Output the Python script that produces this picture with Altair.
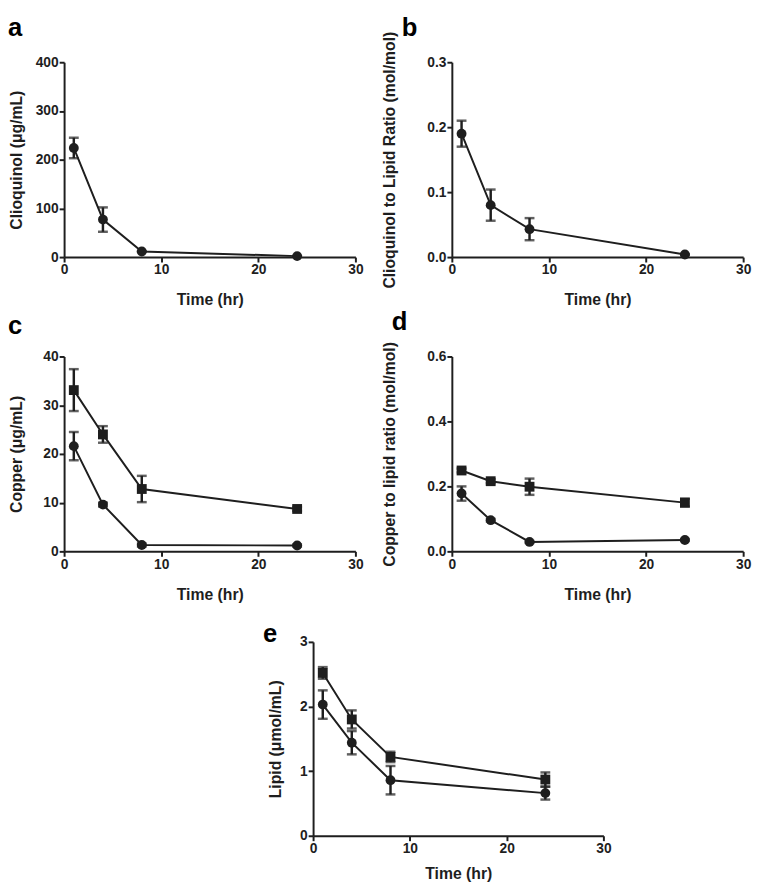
import altair as alt
import pandas as pd

INK = "#1e1e1e"
FONT = "Liberation Sans"

# ---------------- data ----------------
TIME = [1, 4, 8, 24]
X_TICKS = [0, 10, 20, 30]

clioquinol_mean = [224, 77, 11.5, 2]
clioquinol_sd = [21, 25, 0, 0]

cq_lipid_ratio_mean = [0.190, 0.080, 0.043, 0.004]
cq_lipid_ratio_sd = [0.020, 0.024, 0.017, 0.0]

copper_square_mean = [33.1, 24.0, 12.8, 8.7]
copper_square_sd = [4.3, 1.7, 2.7, 0.4]
copper_circle_mean = [21.6, 9.6, 1.3, 1.2]
copper_circle_sd = [2.9, 0.4, 0.3, 0.2]

cu_ratio_square_mean = [0.249, 0.216, 0.199, 0.150]
cu_ratio_square_sd = [0.006, 0.006, 0.025, 0.012]
cu_ratio_circle_mean = [0.178, 0.096, 0.029, 0.035]
cu_ratio_circle_sd = [0.022, 0.004, 0.003, 0.003]

lipid_square_mean = [2.52, 1.80, 1.22, 0.87]
lipid_square_sd = [0.09, 0.14, 0.08, 0.11]
lipid_circle_mean = [2.03, 1.44, 0.86, 0.66]
lipid_circle_sd = [0.22, 0.18, 0.22, 0.10]


def frame(series, mean, sd):
    return pd.DataFrame({
        "time": TIME,
        "mean": mean,
        "lo": [m - s for m, s in zip(mean, sd)],
        "hi": [m + s for m, s in zip(mean, sd)],
        "series": series,
    })


def letter_layer(letter, dx, dy, opacity=1):
    return alt.Chart(pd.DataFrame({"t": [letter]})).mark_text(
        font=FONT, fontSize=26, fontWeight="bold", color="black",
        align="left", baseline="top", opacity=opacity,
    ).encode(text="t:N", x=alt.value(dx), y=alt.value(dy))


def panel(frames, y_ticks, fmt, y_title, letter, letter_dx, letter_dy,
          y_tp, x_tp, width=296, height=198):
    data = pd.concat(frames, ignore_index=True)
    xsc = alt.Scale(domain=[0, 30], nice=False, zero=True)
    ysc = alt.Scale(domain=[y_ticks[0], y_ticks[-1]], nice=False)
    xax = alt.Axis(values=X_TICKS, format="d", title="Time (hr)",
                   titlePadding=x_tp)
    yax = alt.Axis(values=y_ticks, format=fmt, title=y_title,
                   titlePadding=y_tp)
    base = alt.Chart(data)
    line = base.mark_line(color=INK, strokeWidth=2).encode(
        x=alt.X("time:Q", scale=xsc, axis=xax),
        y=alt.Y("mean:Q", scale=ysc, axis=yax),
        detail="series:N",
    )
    err = base.mark_errorbar(ticks=True, size=10, thickness=2.5,
                             color=INK).encode(
        x=alt.X("time:Q", scale=xsc, axis=xax),
        y=alt.Y("lo:Q", scale=ysc, axis=yax),
        y2="hi:Q",
        detail="series:N",
    )
    pts = base.mark_point(filled=True, opacity=1, color=INK,
                          strokeWidth=0).encode(
        x=alt.X("time:Q", scale=xsc, axis=xax),
        y=alt.Y("mean:Q", scale=ysc, axis=yax),
        shape=alt.Shape("series:N",
                        scale=alt.Scale(domain=["circle", "square"],
                                        range=["circle", "square"]),
                        legend=None),
        size=alt.Size("series:N",
                      scale=alt.Scale(domain=["circle", "square"],
                                      range=[100, 100]),
                      legend=None),
    )
    lab = letter_layer(letter, letter_dx, letter_dy)
    return alt.layer(line, err, pts, lab).properties(width=width,
                                                     height=height)


a = panel([frame("circle", clioquinol_mean, clioquinol_sd)],
          [0, 100, 200, 300, 400], "d", "Clioquinol (\u03bcg/mL)",
          "a", -57, -48, 11, 15)
b = panel([frame("circle", cq_lipid_ratio_mean, cq_lipid_ratio_sd)],
          [0, 0.1, 0.2, 0.3], ".1f",
          "Clioquinol to Lipid Ratio (mol/mol)",
          "b", -51, -48, 30, 15)
c = panel([frame("square", copper_square_mean, copper_square_sd),
           frame("circle", copper_circle_mean, copper_circle_sd)],
          [0, 10, 20, 30, 40], "d", "Copper (\u03bcg/mL)",
          "c", -57, -44, 19, 16)
d = panel([frame("square", cu_ratio_square_mean, cu_ratio_square_sd),
           frame("circle", cu_ratio_circle_mean, cu_ratio_circle_sd)],
          [0, 0.2, 0.4, 0.6], ".1f", "Copper to lipid ratio (mol/mol)",
          "d", -61, -48, 30, 16)
e = panel([frame("square", lipid_square_mean, lipid_square_sd),
           frame("circle", lipid_circle_mean, lipid_circle_sd)],
          [0, 1, 2, 3], "d", "Lipid (\u03bcmol/mL)",
          "e", -51, -21, 16, 10, width=295, height=197)

# invisible spacer whose left edge matches the panel letters of a and c
spacer = letter_layer("a", -57, 100, opacity=0).properties(width=155,
                                                            height=10)

row1 = alt.HConcatChart(hconcat=[a, b], spacing=98, bounds="flush")
row2 = alt.HConcatChart(hconcat=[c, d], spacing=98, bounds="flush")
row3 = alt.HConcatChart(hconcat=[spacer, e], spacing=98, bounds="flush")
top = alt.VConcatChart(vconcat=[row1, row2], spacing=2)

chart = alt.VConcatChart(
    vconcat=[top, row3], spacing=19, background="white",
    padding={"left": 0, "top": 0, "right": 2, "bottom": 2},
).configure_view(stroke=None).configure_axis(
    domainColor=INK, domainWidth=2, tickColor=INK, tickWidth=2, tickSize=5,
    labelFont=FONT, labelFontSize=14, labelFontWeight="bold",
    labelColor=INK, labelPadding=1, labelFlush=False,
    titleFont=FONT, titleFontSize=16, titleFontWeight="bold",
    titleColor=INK, grid=False,
)

chart.save("out.html", embed_options={"renderer": "svg", "actions": False})
